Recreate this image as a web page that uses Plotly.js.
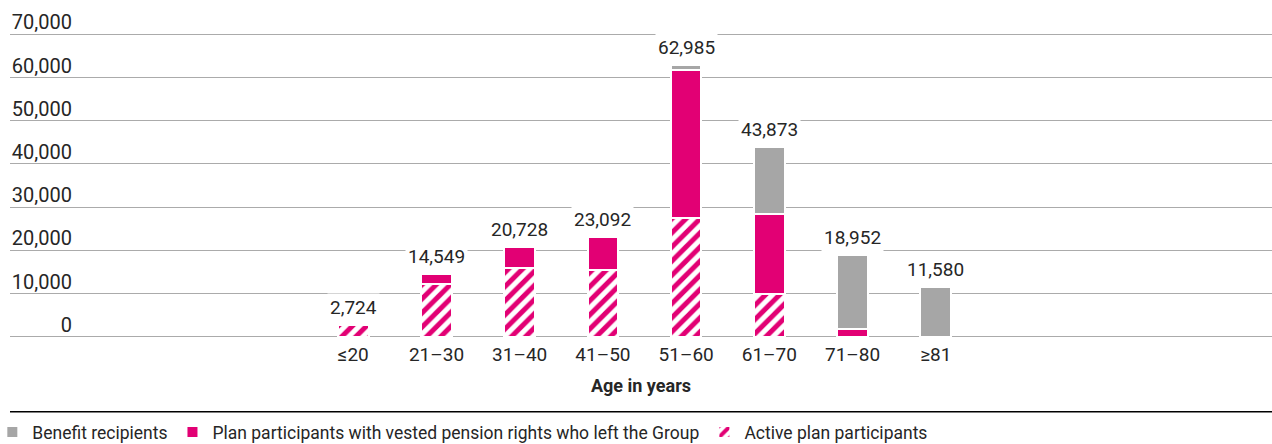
<!DOCTYPE html>
<html>
<head>
<meta charset="utf-8">
<script src="https://cdn.plot.ly/plotly-3.0.1.min.js"></script>
<style>html,body{margin:0;padding:0;background:#fff;}#chart{width:1272px;height:444px;}</style>
</head>
<body>
<div id="chart"></div>
<script>
const categories = ['≤20', '21–30', '31–40', '41–50', '51–60', '61–70', '71–80', '≥81'];
const activeParticipants = [2724, 12300, 15900, 15500, 27520, 9840, 0, 0];
const vestedLeavers = [0, 2249, 4828, 7592, 34220, 18450, 1800, 0];
const benefitRecipients = [0, 0, 0, 0, 1245, 15583, 17152, 11580];
const yTickValues = [0, 10000, 20000, 30000, 40000, 50000, 60000, 70000];

const totals = categories.map((c, i) => activeParticipants[i] + vestedLeavers[i] + benefitRecipients[i]);

const MAGENTA = '#E20074';
const GREY = '#A6A6A6';
const TEXT = '#262626';
const FONT = 'Roboto, "Open Sans", sans-serif';

const common = {type: 'bar', x: categories, hoverinfo: 'skip'};

const traces = [
  Object.assign({}, common, {
    name: 'Active plan participants',
    y: activeParticipants,
    marker: {
      color: MAGENTA,
      pattern: {shape: '/', fgcolor: MAGENTA, bgcolor: '#ffffff', size: 10, solidity: 0.5},
      line: {color: '#ffffff', width: 2}
    }
  }),
  Object.assign({}, common, {
    name: 'Plan participants with vested pension rights who left the Group',
    y: vestedLeavers,
    marker: {color: MAGENTA, line: {color: '#ffffff', width: 2}}
  }),
  Object.assign({}, common, {
    name: 'Benefit recipients',
    y: benefitRecipients,
    marker: {color: GREY, line: {color: '#ffffff', width: 2}}
  })
];

const annotations = categories.map((c, i) => ({
  x: c, y: totals[i], xref: 'x', yref: 'y',
  text: totals[i].toLocaleString('en-US'),
  showarrow: false, yanchor: 'bottom', yshift: 3,
  bgcolor: '#ffffff', borderpad: 2,
  font: {family: FONT, size: 19, color: TEXT}
}));

const layout = {
  width: 1272, height: 444,
  margin: {l: 10, r: 0, t: 32, b: 105, autoexpand: false},
  paper_bgcolor: '#ffffff', plot_bgcolor: '#ffffff',
  barmode: 'stack', bargap: 0.632,
  showlegend: true,
  font: {family: FONT, color: TEXT},
  xaxis: {
    type: 'category', range: [-4.125, 11.04],
    showgrid: false, zeroline: false, showline: false, ticks: '',
    ticklabelstandoff: 2,
    tickfont: {family: FONT, size: 19, color: TEXT},
    title: {text: '<b>Age in years</b>', font: {family: FONT, size: 18, color: TEXT}, standoff: 14},
    automargin: false,
    fixedrange: true
  },
  yaxis: {
    range: [-532, 70532], tickvals: yTickValues, tickformat: ',',
    showgrid: true, gridcolor: '#ababab', gridwidth: 1,
    zeroline: false, showline: false, ticks: '',
    ticklabelposition: 'outside top', ticklabelstandoff: -63, ticklabelshift: 2,
    tickfont: {family: FONT, size: 20, color: TEXT},
    automargin: false,
    fixedrange: true
  },
  legend: {
    orientation: 'h', x: -0.014, xanchor: 'left', y: -0.2443, yanchor: 'top',
    traceorder: 'reversed',
    font: {family: FONT, size: 17.5, color: TEXT},
    bgcolor: 'rgba(0,0,0,0)'
  },
  annotations: annotations,
  shapes: [{
    type: 'line', xref: 'paper', yref: 'paper', x0: 0, x1: 1, y0: -0.2368, y1: -0.2368,
    line: {color: '#000000', width: 1.5}
  }]
};

Plotly.newPlot('chart', traces, layout, {displayModeBar: false, staticPlot: true});
</script>
</body>
</html>
